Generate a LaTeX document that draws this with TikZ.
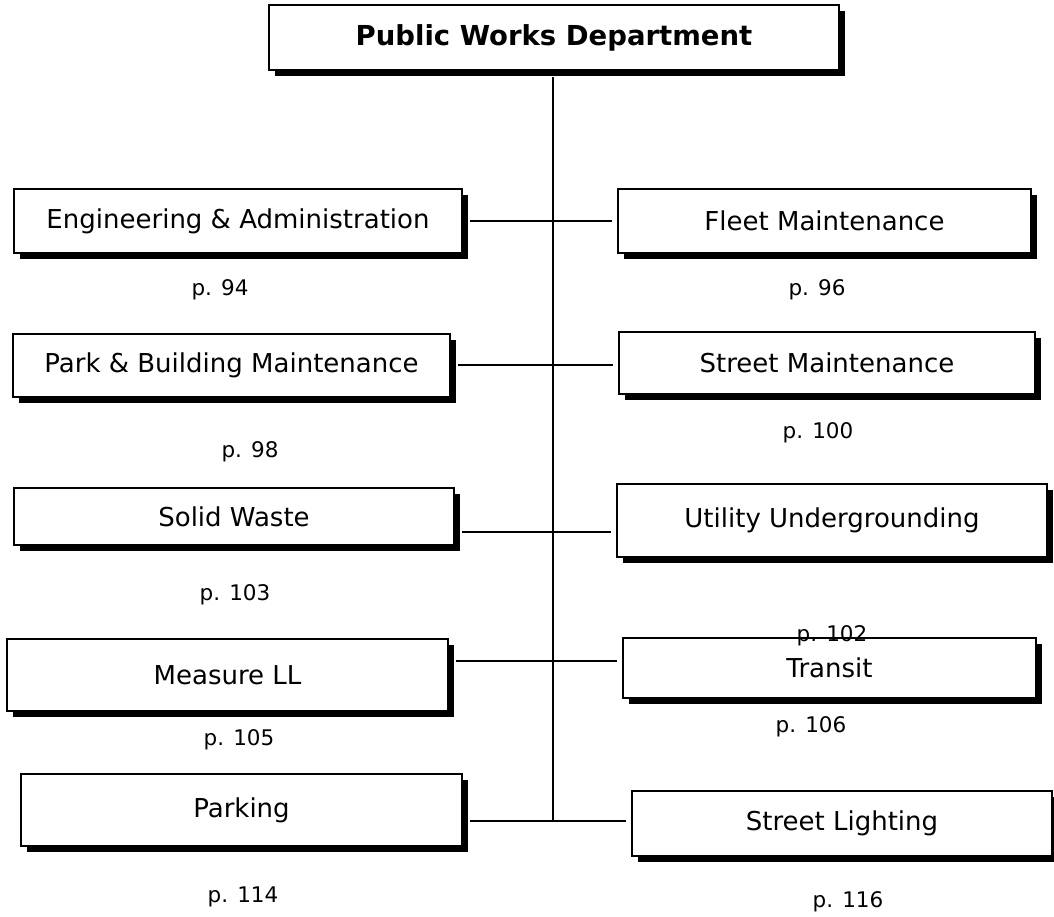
\documentclass[tikz,border=0pt]{standalone}
\usepackage{fontspec}
\setmainfont{DejaVu Sans}
\usetikzlibrary{shadows}
\tikzset{
  unitbox/.style={draw=black, line width=1.3pt, fill=white, rectangle, inner sep=0pt,
    drop shadow={shadow xshift=6pt, shadow yshift=-6pt, fill=black, opacity=1},
    font=\fontsize{26}{30}\selectfont},
  pagelbl/.style={inner sep=0pt, font=\fontsize{21.5}{26}\selectfont},
  link/.style={draw=black, line width=1.3pt}
}
\begin{document}
\begin{tikzpicture}[x=1pt,y=-1pt]
\useasboundingbox (0,0) rectangle (1054,917);
% boxes
\node[unitbox, minimum width=570pt, minimum height=65pt, font=\fontsize{27.5}{30}\selectfont\bfseries] (top) at (554,37.5) {Public Works Department};
\node[unitbox, minimum width=448pt, minimum height=64pt] (eng) at (238,221) {Engineering \& Administration};
\node[unitbox, minimum width=413pt, minimum height=64pt] (fleet) at (824.5,221) {Fleet Maintenance};
\node[unitbox, minimum width=437pt, minimum height=63pt] (park) at (231.5,365.5) {Park \& Building Maintenance};
\node[unitbox, minimum width=416pt, minimum height=62pt] (streetm) at (827,363) {Street Maintenance};
\node[unitbox, minimum width=440pt, minimum height=57pt] (solid) at (234,516.5) {Solid Waste};
\node[unitbox, minimum width=430pt, minimum height=73pt] (util) at (832,520.5) {Utility Undergrounding};
\node[unitbox, minimum width=441pt, minimum height=72pt] (measure) at (227.5,675) {Measure LL};
\node[unitbox, minimum width=413pt, minimum height=60pt] (transit) at (829.5,668) {Transit};
\node[unitbox, minimum width=441pt, minimum height=72pt] (parking) at (241.5,810) {Parking};
\node[unitbox, minimum width=420pt, minimum height=65pt] (streetl) at (842,823.5) {Street Lighting};
% page labels
\node[pagelbl] (p94) at (220,290) {p. 94};
\node[pagelbl] (p96) at (817,290) {p. 96};
\node[pagelbl] (p98) at (250,452) {p. 98};
\node[pagelbl] (p100) at (818,433) {p. 100};
\node[pagelbl] (p103) at (235,595) {p. 103};
\node[pagelbl] (p102) at (832,636) {p. 102};
\node[pagelbl] (p105) at (239,740) {p. 105};
\node[pagelbl] (p106) at (811,727) {p. 106};
\node[pagelbl] (p114) at (243,897) {p. 114};
\node[pagelbl] (p116) at (848,902) {p. 116};
% spine junctions
\coordinate (s0) at (553,77);
\coordinate (j1) at (553,221);
\coordinate (j2) at (553,365);
\coordinate (j3) at (553,532);
\coordinate (j4) at (553,661);
\coordinate (j5) at (553,821);
\draw[link] (s0) -- (j5);
\draw[link] ([xshift=7pt]eng.east |- j1) -- ([xshift=-5pt]fleet.west |- j1);
\draw[link] ([xshift=7pt]park.east |- j2) -- ([xshift=-5pt]streetm.west |- j2);
\draw[link] ([xshift=7pt]solid.east |- j3) -- ([xshift=-5pt]util.west |- j3);
\draw[link] ([xshift=7pt]measure.east |- j4) -- ([xshift=-5pt]transit.west |- j4);
\draw[link] ([xshift=7pt]parking.east |- j5) -- ([xshift=-5pt]streetl.west |- j5);
\end{tikzpicture}
\end{document}
